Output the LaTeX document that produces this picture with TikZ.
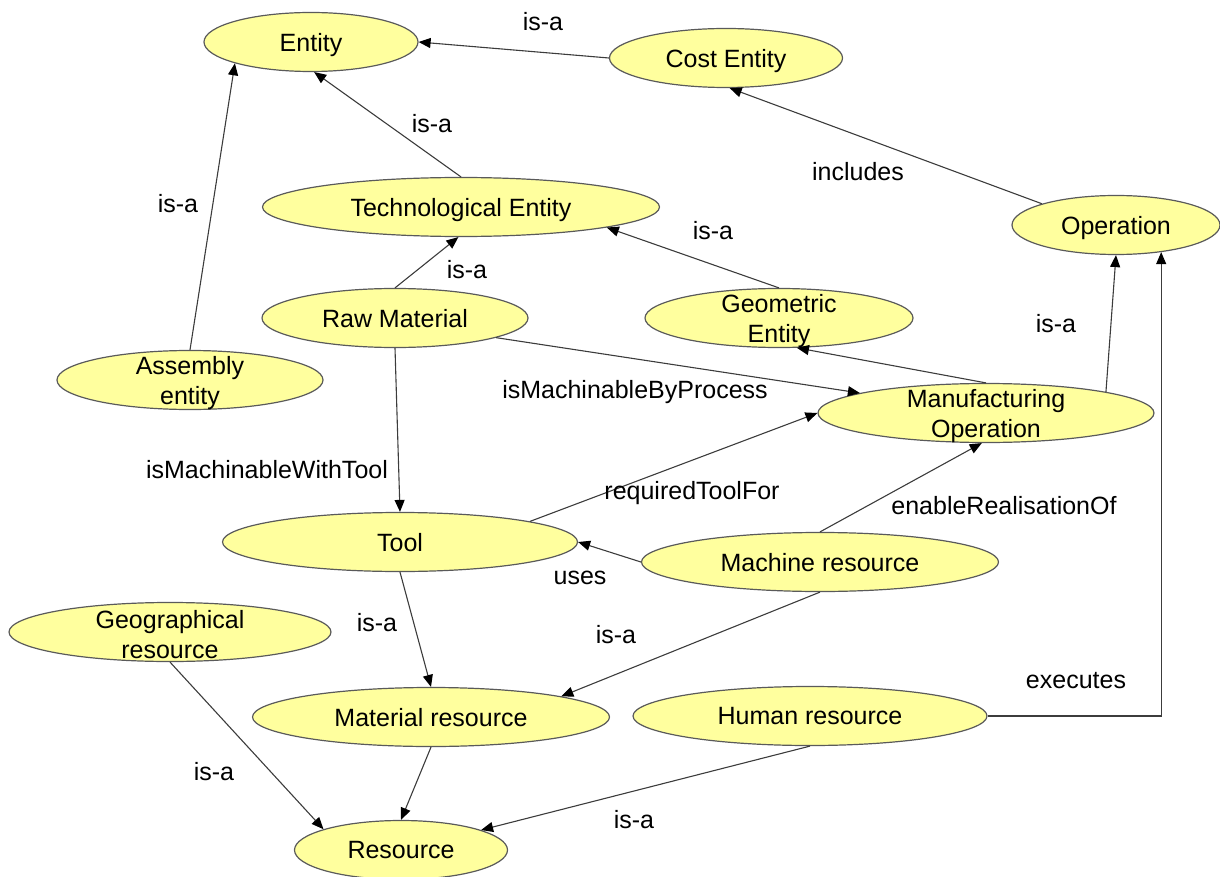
\documentclass[tikz,border=0pt]{standalone}
\usepackage{fontspec}
\setmainfont{Liberation Sans}
\usetikzlibrary{shapes.geometric,arrows.meta}
\definecolor{nodefill}{RGB}{255,255,158}
\definecolor{nodeedge}{RGB}{90,90,90}
\definecolor{linkcol}{RGB}{60,60,60}
\begin{document}
\begin{tikzpicture}[x=0.5pt,y=-0.5pt,
  concept/.style={ellipse, draw=nodeedge, fill=nodefill, line width=0.6pt,
    minimum width=#1*0.5pt, minimum height=29.5pt, inner sep=0pt,
    text depth=0pt, font=\fontsize{12.5}{15}\selectfont},
  twoline/.style={align=center, inner sep=0pt, yshift=-1.5pt,
    font=\fontsize{12.5}{15}\selectfont},
  link/.style={draw=linkcol, line width=0.55pt,
    -{Triangle[length=6pt,width=5pt,color=black]}},
  lbl/.style={inner sep=0pt, font=\fontsize{12.5}{15}\selectfont}]
\useasboundingbox (0,0) rectangle (1220,877);

% concepts
\node[concept=214] (ent)  at (311,42)  {Entity};
\node[concept=233] (cost) at (726,58)  {Cost Entity};
\node[concept=397] (tech) at (461,207) {Technological Entity};
\node[concept=208] (oper) at (1116,225) {Operation};
\node[concept=266] (raw)  at (395,318) {Raw Material};
\node[concept=268, label={[twoline, name=geotxt]center:Geometric\\Entity}] (geo) at (779,318) {};
\node[concept=266, label={[twoline, name=asmtxt]center:Assembly\\entity}] (asm) at (190,380) {};
\node[concept=336, label={[twoline, name=mfgtxt]center:Manufacturing\\Operation}] (mfg) at (986,413) {};
\node[concept=355] (tool) at (400,542) {Tool};
\node[concept=357] (mach) at (820,562) {Machine resource};
\node[concept=322, label={[twoline, name=geogtxt]center:Geographical\\resource}] (geog) at (170,632) {};
\node[concept=357] (matr) at (431,717) {Material resource};
\node[concept=354] (hum)  at (810,716) {Human resource};
\node[concept=213] (res)  at (401,850) {Resource};

% relations
\draw[link] (cost.west) -- (ent.east);
\draw[link] (tech.north) -- (ent.-84);
\draw[link] (asm.north) -- (ent.south west);
\draw[link] (oper.164) -- (cost.-83);
\draw[link] (raw.north) -- (tech.-95);
\draw[link] (geo.north) -- (tech.-8);
\draw[link] (mfg.north) -- (geo.-59);
\draw[link] (mfg.10) -- (oper.south);
\draw[link] (raw.-11) -- (mfg.171);
\draw[link] (raw.south) -- (tool.north);
\draw[link] (tool.9) -- (mfg.west);
\draw[link] (mach.north) -- (mfg.-98);
\draw[link] (mach.west) -- (tool.east);
\draw[link] (tool.south) -- (matr.north);
\draw[link] (mach.south) -- (matr.9);
\draw[link] (geog.south) -- (res.165);
\draw[link] (matr.south) -- (res.north);
\draw[link] (hum.south) -- (res.14);
\draw[link] (hum.east) -| (oper.-31);

% relation labels
\node[lbl] (l1)  at (543,22)  {is-a};
\node[lbl] (l2)  at (432,124) {is-a};
\node[lbl] (l3)  at (178,204) {is-a};
\node[lbl] (l4)  at (858,172) {includes};
\node[lbl] (l5)  at (467,270) {is-a};
\node[lbl] (l6)  at (713,231) {is-a};
\node[lbl] (l7)  at (1056,324) {is-a};
\node[lbl] (l8)  at (635,392) {isMachinableByProcess};
\node[lbl] (l9)  at (267,470) {isMachinableWithTool};
\node[lbl] (l10) at (692,493) {requiredToolFor};
\node[lbl] (l11) at (1004,506) {enableRealisationOf};
\node[lbl] (l12) at (580,578) {uses};
\node[lbl] (l13) at (377,623) {is-a};
\node[lbl] (l14) at (616,635) {is-a};
\node[lbl] (l15) at (1076,681) {executes};
\node[lbl] (l16) at (214,772) {is-a};
\node[lbl] (l17) at (634,820) {is-a};
\end{tikzpicture}
\end{document}
